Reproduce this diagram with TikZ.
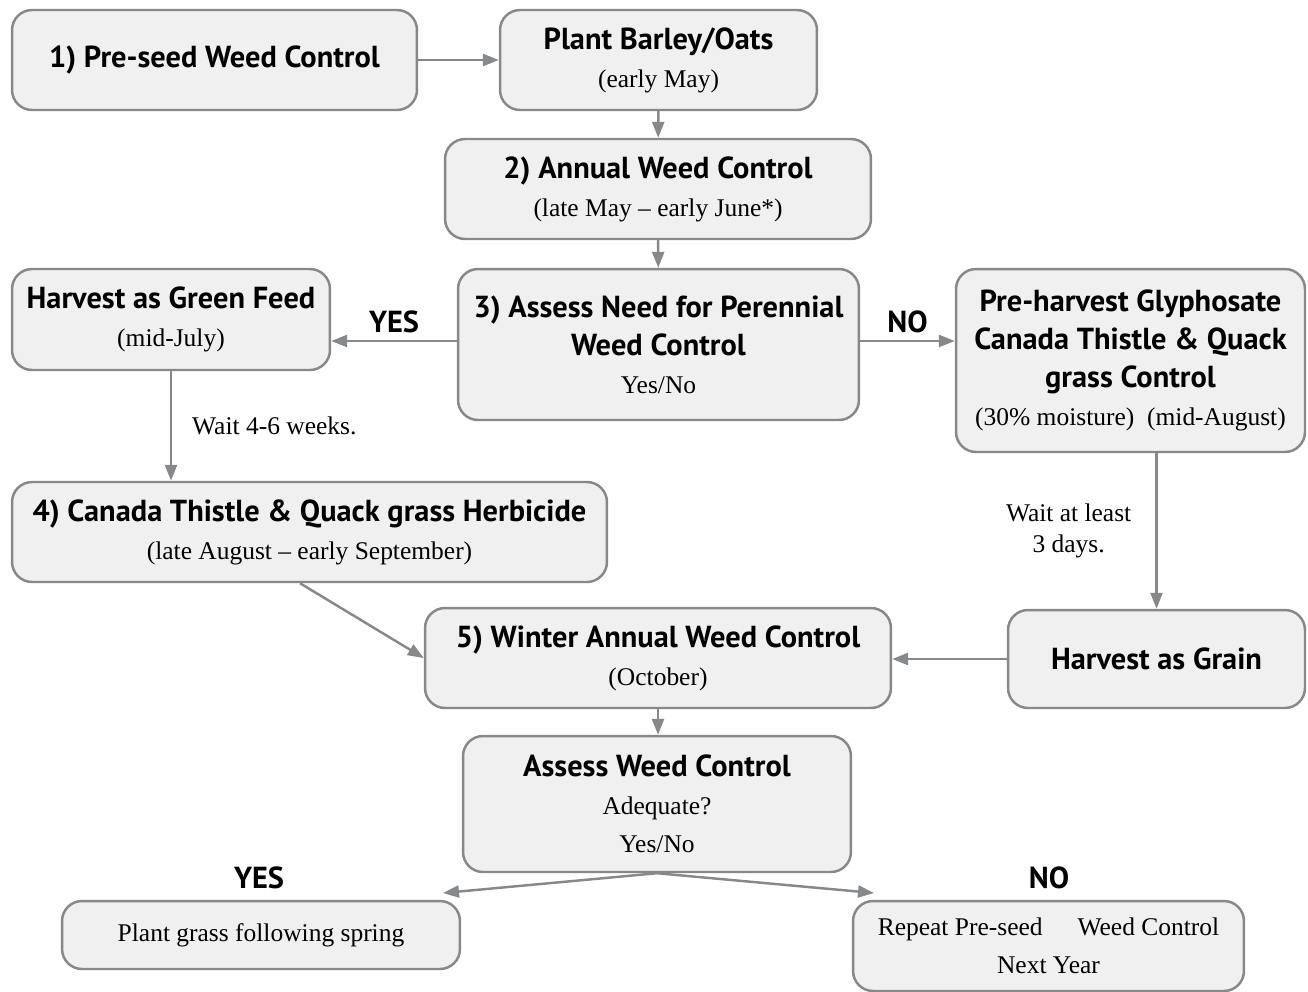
\documentclass[tikz,border=0pt]{standalone}
\usepackage{fontspec}
\setmainfont{Liberation Serif}
\setsansfont{PT Sans}
\usetikzlibrary{arrows.meta}
\definecolor{boxfill}{HTML}{EFF0EF}
\definecolor{boxline}{HTML}{86888A}
\newcommand\hd[1]{{\sffamily\bfseries\fontsize{17.3}{21.6}\selectfont #1}}
\tikzset{
  box/.style={draw=boxline, line width=1.4pt, fill=boxfill, rounded corners=0.4cm,
    align=center, inner sep=0pt, font=\fontsize{14.5}{21.6}\selectfont},
  conn/.style={draw=boxline, line width=1.4pt, -{Triangle[length=0.32cm,width=0.24cm]}},
  lbl/.style={font=\sffamily\bfseries\fontsize{17.3}{19}\selectfont, inner sep=0pt},
  note/.style={font=\fontsize{14.5}{17.5}\selectfont, align=center, inner sep=0pt},
}
\begin{document}
\begin{tikzpicture}[x=0.02cm,y=-0.02cm]
\useasboundingbox (0,0) rectangle (1308,991);
\node[box,minimum width=8.1cm,minimum height=2cm] (pre) at (214.5,60) {\hd{1) Pre-seed Weed Control}};
\node[box,minimum width=6.34cm,minimum height=2cm] (plant) at (658.5,60) {\hd{Plant Barley/Oats}\\(early May)};
\node[box,minimum width=8.52cm,minimum height=2cm] (annual) at (658,189) {\hd{2) Annual Weed Control}\\(late May -- early June*)};
\node[box,minimum width=6.36cm,minimum height=2.02cm] (green) at (171,319.5) {\hd{Harvest as Green Feed}\\(mid-July)};
\node[box,minimum width=8.02cm,minimum height=3.02cm] (assess) at (658.5,344.5) {\hd{3) Assess Need for Perennial}\\\hd{Weed Control}\\Yes/No};
\node[box,minimum width=6.98cm,minimum height=3.66cm] (glyph) at (1130.5,360.5) {\hd{Pre-harvest Glyphosate}\\\hd{Canada Thistle \& Quack}\\\hd{grass Control}\\(30\% moisture)\ \ (mid-August)};
\node[box,minimum width=11.9cm,minimum height=2cm] (cth) at (309.5,532) {\hd{4) Canada Thistle \& Quack grass Herbicide}\\(late August -- early September)};
\node[box,minimum width=9.32cm,minimum height=2cm] (winter) at (658,658) {\hd{5) Winter Annual Weed Control}\\(October)};
\node[box,minimum width=5.94cm,minimum height=1.96cm] (grain) at (1156.5,659) {\hd{Harvest as Grain}};
\node[box,minimum width=7.76cm,minimum height=2.72cm] (aw) at (657,804) {\hd{Assess Weed Control}\\Adequate?\\Yes/No};
\node[box,minimum width=7.96cm,minimum height=1.36cm] (pg) at (261,935) {Plant grass following spring};
\node[box,minimum width=7.82cm,minimum height=1.8cm] (rp) at (1048.5,946) {Repeat Pre-seed\hspace{0.7cm}Weed Control\\Next Year};

\coordinate (aL) at ([yshift=0.07cm]assess.west);
\coordinate (aR) at ([yshift=0.07cm]assess.east);
\draw[conn] (pre) -- (plant);
\draw[conn] (plant) -- (annual);
\draw[conn] (annual) -- (assess);
\draw[conn] (aL) -- node[lbl, above=0.13cm] (yes1) {YES} (green.east |- aL);
\draw[conn] (aR) -- node[lbl, above=0.13cm] (no1) {NO} (glyph.west |- aR);
\draw[conn] (green) -- node[note, right=0.4cm] (wait1) {Wait 4-6 weeks.} (green |- cth.north);
\draw[conn] (grain |- glyph.south) -- node[note, left=0.48cm] (wait2) {Wait at least\\3 days.} (grain);
\draw[conn] ([xshift=-0.19cm]cth.south) -- (winter.west);
\draw[conn] (grain.west) -- (winter.east |- grain.west);
\draw[conn] (winter.south) -- (winter.south |- aw.north);
\coordinate (yl) at (443,893);
\coordinate (nr) at (874,893);
\draw[conn] (aw.south) -- (yl);
\draw[conn] (aw.south) -- (nr);
\node[lbl] (yes2) at (259,878) {YES};
\node[lbl] (no2) at (1049,878) {NO};
\end{tikzpicture}
\end{document}
